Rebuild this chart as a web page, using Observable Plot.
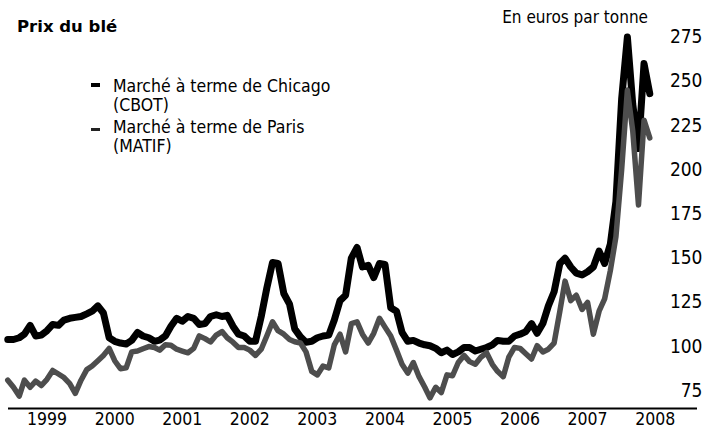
<!DOCTYPE html>
<html>
<head>
<meta charset="utf-8">
<script src="https://cdn.jsdelivr.net/npm/d3@7"></script>
<script src="https://cdn.jsdelivr.net/npm/@observablehq/plot@0.6"></script>
<style>
  html, body { margin: 0; padding: 0; background: #fff; }
  #wrap { position: relative; width: 704px; height: 431px; overflow: hidden; font-family: "DejaVu Sans Condensed", "DejaVu Sans", sans-serif; color: #000; }
  #chart svg { display: block; }
  .abs { position: absolute; white-space: nowrap; }
  #title { left: 17px; top: 17px; font-family: "DejaVu Sans", sans-serif; font-weight: bold; font-size: 16.5px; line-height: 19.2px; }
  #unit { right: 56px; top: 7px; font-size: 17px; line-height: 20px; }
  .leg { left: 113px; font-size: 17.5px; line-height: 18.5px; }
  .dash { position: absolute; left: 91px; width: 9px; background: #000; }
</style>
</head>
<body>
<div id="wrap">
  <div id="chart"></div>
  <div id="title" class="abs">Prix du blé</div>
  <div id="unit" class="abs">En euros par tonne</div>
  <div class="dash" style="top:83px;height:4px"></div>
  <div class="leg abs" style="top:77px">Marché à terme de Chicago<br>(CBOT)</div>
  <div class="dash" style="top:128px;height:2.5px;background:#222"></div>
  <div class="leg abs" style="top:118px">Marché à terme de Paris<br>(MATIF)</div>
</div>
<script>
// Monthly observations, December 1998 to June 2008 (euros per tonne)
const firstMonth = "1998-12-01";
const chicago = [
  104, 104, 105, 107, 112, 106, 106.5, 109, 112.5, 112, 115, 116, 116.5,
  117, 118.5, 120, 123, 119, 105, 103, 102, 101.5, 103.5, 108, 106,
  105, 103, 103.7, 106, 111.5, 116, 114.3, 117, 116, 112.5, 113, 117,
  118, 117, 117.7, 111.5, 107, 106, 103, 103, 117, 133, 147.5, 147,
  130, 124, 110, 105.5, 102.5, 103, 105, 106, 106.5, 115, 126, 129,
  150, 156, 145, 146, 139, 147, 146.5, 122, 120, 108, 103, 103.5,
  102, 101, 100.5, 99, 96.5, 98, 95.5, 97, 99.5, 99.5, 97.5, 98.5,
  99.5, 101, 103.5, 103, 103, 106, 107, 108.5, 113, 107.5, 113, 123,
  131, 147, 150, 145, 141.5, 140.5, 142.3, 145, 154, 147, 158, 182,
  240, 275, 237, 212, 260, 243
];
const paris = [
  81, 77, 72, 81, 77, 80.5, 78, 81.5, 86.5, 84.5, 82.5, 79, 73.5,
  81, 87, 89, 92, 95, 99, 92, 87.5, 88, 97, 97.5, 98.8,
  100, 99.5, 98, 101, 100.8, 98.5, 97.5, 96.5, 99, 106, 104.5, 102.6,
  106.5, 108.5, 105, 102.5, 99.5, 99.5, 98, 95, 98.5, 106, 114, 109,
  107, 104, 102.7, 102, 97, 86, 84, 89, 88, 101, 107, 97,
  113, 114, 107, 102, 107.5, 116, 111, 106, 98, 90, 85, 91,
  83, 77, 71, 77, 74, 84, 83.5, 91, 95, 91.5, 90, 94,
  96.5, 90, 86, 83, 94, 99.5, 99, 96, 93, 100.5, 97, 98.5,
  102, 120, 137, 126, 129, 121, 125, 107, 120, 127, 143, 162,
  200, 245, 222, 180, 228, 218
];
const yearLabels = [1999, 2000, 2001, 2002, 2003, 2004, 2005, 2006, 2007, 2008];
const yTicks = [75, 100, 125, 150, 175, 200, 225, 250, 275];
const seriesNames = ["Marché à terme de Chicago (CBOT)", "Marché à terme de Paris (MATIF)"];

const months = d3.utcMonth.range(new Date(firstMonth + "T00:00:00Z"), new Date(Date.UTC(2100, 0, 1))).slice(0, chicago.length);
const rows = [];
months.forEach((d, i) => {
  rows.push({date: d, value: chicago[i], series: seriesNames[0]});
  rows.push({date: d, value: paris[i], series: seriesNames[1]});
});
const yearTicks = yearLabels.map(y => new Date(Date.UTC(y, 6, 1)));

const chart = Plot.plot({
  width: 704,
  height: 431,
  marginLeft: 8,
  marginRight: 7,
  marginTop: 10,
  marginBottom: 23,
  x: {type: "utc", domain: [new Date("1998-12-05T00:00:00Z"), new Date("2009-02-14T00:00:00Z")], label: null},
  y: {domain: [65, 290], label: null},
  style: {fontFamily: "'DejaVu Sans Condensed', 'DejaVu Sans', sans-serif", color: "#000", background: "#fff"},
  marks: [
    Plot.ruleY([65], {stroke: "#000", strokeWidth: 2}),
    Plot.lineY(rows.filter(d => d.series === seriesNames[0]), {x: "date", y: "value", stroke: "#000", strokeWidth: 7, strokeLinejoin: "round", strokeLinecap: "round"}),
    Plot.lineY(rows.filter(d => d.series === seriesNames[1]), {x: "date", y: "value", stroke: "#4d4d4d", strokeWidth: 5.5, strokeLinejoin: "round", strokeLinecap: "round"}),
    Plot.axisX(yearTicks, {tickSize: 0, tickPadding: 4, tickFormat: d => String(d.getUTCFullYear()), fontSize: 17.5, label: null}),
    Plot.axisY(yTicks, {anchor: "right", tickSize: 0, tickPadding: 5, textAnchor: "end", fontSize: 19, label: null})
  ]
});
document.getElementById("chart").appendChild(chart);
</script>
</body>
</html>
